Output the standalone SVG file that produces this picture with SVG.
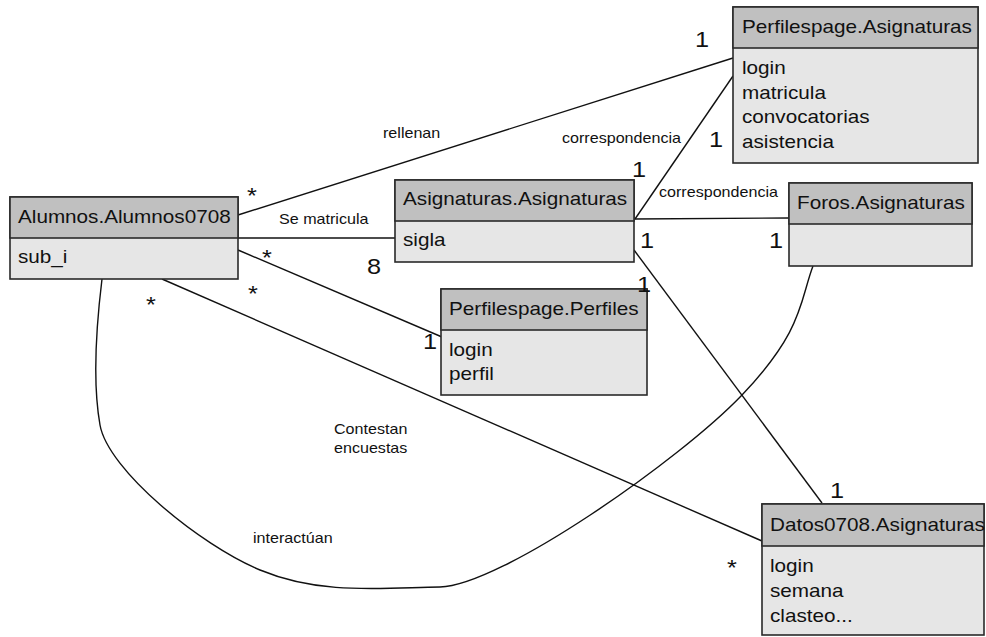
<svg xmlns="http://www.w3.org/2000/svg" width="986" height="637" viewBox="0 0 986 637">
  <style>
    .line { fill: none; stroke: #111; stroke-width: 1.4; }
    .box { fill: #e6e6e6; stroke: #2a2a2a; stroke-width: 1.6; }
    .hdr { fill: #c0c0c0; stroke: #2a2a2a; stroke-width: 1.6; }
    text { font-family: "Liberation Sans", Arial, sans-serif; fill: #111; }
    .nt { font-size: 18px; }
    .lb { font-size: 14px; }
    .mu { font-size: 22px; }
  </style>

  <rect width="986" height="637" fill="#fff"/>

  <g id="connectors">
    <!-- rellenan -->
    <line class="line" x1="238" y1="215" x2="733" y2="58"/>
    <!-- Se matricula -->
    <line class="line" x1="238" y1="238" x2="395" y2="238"/>
    <!-- Alumnos to Perfiles -->
    <line class="line" x1="238" y1="250" x2="442" y2="337"/>
    <!-- Contestan encuestas -->
    <line class="line" x1="162" y1="279" x2="762" y2="541"/>
    <!-- correspondencia (Perfilespage.Asignaturas) -->
    <line class="line" x1="635" y1="219" x2="733" y2="76"/>
    <!-- correspondencia (Foros) -->
    <line class="line" x1="634" y1="219" x2="789" y2="218"/>
    <!-- Asignaturas to Datos0708 -->
    <line class="line" x1="634" y1="250" x2="822" y2="503"/>
    <!-- interactúan -->
    <path class="line" d="M102,279 C97,320 92,380 100,425 C108,470 200,545 260,570 C320,595 380,588 440,587 C500,586 680,460 742,395 C804,330 800,300 813,266"/>
  </g>

  <g id="nodes">
    <g id="alumnos">
      <rect class="box" x="10" y="197" width="228" height="82"/>
      <rect class="hdr" x="10" y="197" width="228" height="41"/>
      <text class="nt" transform="translate(18 223) scale(1.15 1)">Alumnos.Alumnos0708</text>
      <text class="nt" transform="translate(18 263) scale(1.15 1)">sub_i</text>
    </g>
    <g id="asignaturas">
      <rect class="box" x="395" y="180" width="239" height="82"/>
      <rect class="hdr" x="395" y="180" width="239" height="41"/>
      <text class="nt" transform="translate(403 205) scale(1.15 1)">Asignaturas.Asignaturas</text>
      <text class="nt" transform="translate(403 246) scale(1.15 1)">sigla</text>
    </g>
    <g id="foros">
      <rect class="box" x="789" y="183" width="183" height="83"/>
      <rect class="hdr" x="789" y="183" width="183" height="41"/>
      <text class="nt" transform="translate(797 209) scale(1.15 1)">Foros.Asignaturas</text>
    </g>
    <g id="perfilespage-asignaturas">
      <rect class="box" x="733" y="7" width="245" height="156"/>
      <rect class="hdr" x="733" y="7" width="245" height="41"/>
      <text class="nt" transform="translate(742 33) scale(1.15 1)">Perfilespage.Asignaturas</text>
      <text class="nt" transform="translate(742 74) scale(1.15 1)">login</text>
      <text class="nt" transform="translate(742 98.5) scale(1.15 1)">matricula</text>
      <text class="nt" transform="translate(742 123) scale(1.15 1)">convocatorias</text>
      <text class="nt" transform="translate(742 147.5) scale(1.15 1)">asistencia</text>
    </g>
    <g id="perfilespage-perfiles">
      <rect class="box" x="441" y="289" width="206" height="106"/>
      <rect class="hdr" x="441" y="289" width="206" height="41"/>
      <text class="nt" transform="translate(449 315) scale(1.15 1)">Perfilespage.Perfiles</text>
      <text class="nt" transform="translate(449 356) scale(1.15 1)">login</text>
      <text class="nt" transform="translate(449 380) scale(1.15 1)">perfil</text>
    </g>
    <g id="datos0708">
      <rect class="box" x="762" y="504" width="222" height="131"/>
      <rect class="hdr" x="762" y="504" width="222" height="42"/>
      <text class="nt" transform="translate(770 531) scale(1.15 1)">Datos0708.Asignaturas</text>
      <text class="nt" transform="translate(770 572) scale(1.15 1)">login</text>
      <text class="nt" transform="translate(770 597) scale(1.15 1)">semana</text>
      <text class="nt" transform="translate(770 622) scale(1.15 1)">clasteo...</text>
    </g>
  </g>

  <g id="connector-labels">
    <text class="lb" transform="translate(383 138) scale(1.15 1)">rellenan</text>
    <text class="lb" transform="translate(562 143) scale(1.15 1)">correspondencia</text>
    <text class="lb" transform="translate(659 197) scale(1.15 1)">correspondencia</text>
    <text class="lb" transform="translate(279 224) scale(1.15 1)">Se matricula</text>
    <text class="lb" transform="translate(334 434) scale(1.15 1)">Contestan</text>
    <text class="lb" transform="translate(334 453) scale(1.15 1)">encuestas</text>
    <text class="lb" transform="translate(253 543) scale(1.15 1)">interactúan</text>

    <text class="mu" transform="translate(695 47) scale(1.15 1)">1</text>
    <text class="mu" transform="translate(709 147) scale(1.15 1)">1</text>
    <text class="mu" transform="translate(632 177) scale(1.15 1)">1</text>
    <text class="mu" transform="translate(640 248) scale(1.15 1)">1</text>
    <text class="mu" transform="translate(769 248) scale(1.15 1)">1</text>
    <text class="mu" transform="translate(637 292) scale(1.15 1)">1</text>
    <text class="mu" transform="translate(423 349) scale(1.15 1)">1</text>
    <text class="mu" transform="translate(830 498) scale(1.15 1)">1</text>
    <text class="mu" transform="translate(367 274) scale(1.15 1)">8</text>

    <text class="mu" transform="translate(247 202.5) scale(1.15 1)">*</text>
    <text class="mu" transform="translate(262 265) scale(1.15 1)">*</text>
    <text class="mu" transform="translate(248 300.5) scale(1.15 1)">*</text>
    <text class="mu" transform="translate(146 312) scale(1.15 1)">*</text>
    <text class="mu" transform="translate(727 574.5) scale(1.15 1)">*</text>
  </g>
</svg>
